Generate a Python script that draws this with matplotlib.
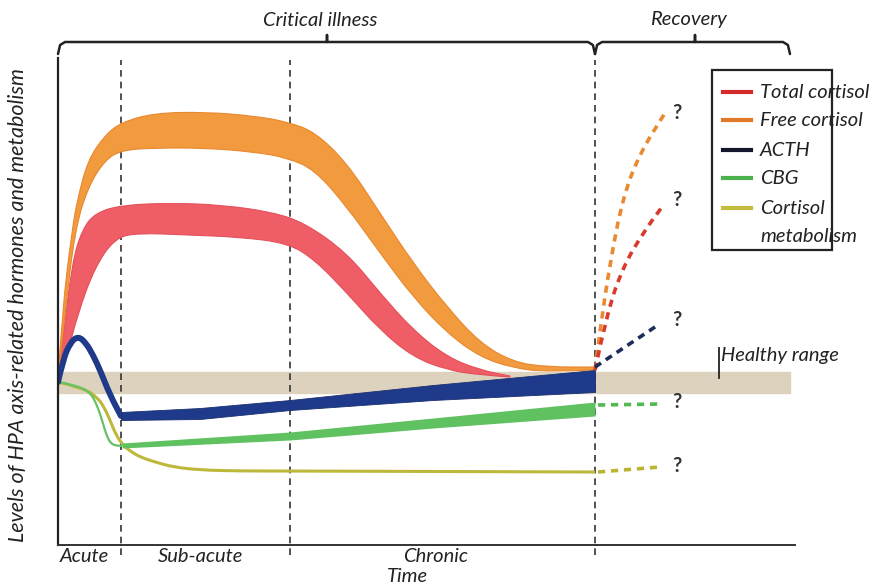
import numpy as np
import matplotlib
matplotlib.use('Agg')
import matplotlib.pyplot as plt
from matplotlib.patches import Rectangle, PathPatch
from matplotlib.path import Path

plt.rcParams['font.family'] = ['Lato', 'DejaVu Sans']

# phase boundaries (time units) and labels
phase_edges = [0.0, 6.3, 23.2, 53.7]
phase_names = ['Acute', 'Sub-acute', 'Chronic']
phase_label_t = [2.6, 14.3, 37.8]
t_end = 73.7
healthy_range = (15.2, 17.3)

# free cortisol band (upper / lower edge)
free_up_t = [0, 0.4, 1.4, 2.0, 3.0, 4.7, 6.4, 9.7, 14.7, 19.7, 23.0, 25.7, 28.9,
             32.2, 35.5, 38.9, 42.2, 45.5, 48.9, 53.7]
free_up_v = [16.5, 23.2, 31.5, 34.8, 38.5, 41.0, 42.3, 43.2, 43.3, 42.9, 42.3, 41.3, 38.2,
             33.2, 28.2, 23.8, 20.2, 18.3, 17.8, 17.8]
free_lo_t = [0, 0.7, 1.7, 3.0, 4.7, 6.4, 9.7, 14.7, 19.7, 23.0, 25.7, 28.9,
             32.2, 35.5, 38.9, 42.2, 45.5, 48.9, 53.7]
free_lo_v = [16.5, 23.2, 31.5, 35.8, 38.5, 39.5, 39.7, 39.7, 39.3, 38.7, 37.5, 33.8,
             29.2, 24.8, 21.2, 18.8, 17.7, 17.3, 17.5]

# total cortisol band
tot_up_t = [0, 0.4, 1.4, 2.4, 3.7, 6.4, 11.4, 16.4, 21.4, 24.7, 28.9, 32.2, 35.5,
            38.9, 42.2, 45.2]
tot_up_v = [16.5, 19.8, 28.2, 31.5, 33.2, 34.0, 34.2, 34.0, 33.3, 32.2, 29.2, 25.2, 21.5,
            18.8, 17.5, 16.9]
tot_lo_t = [0, 0.7, 2.0, 3.7, 5.7, 8.0, 13.0, 18.0, 23.0, 25.7, 28.9, 32.2, 35.5,
            38.9, 42.2, 45.2]
tot_lo_v = [16.5, 18.2, 23.2, 27.8, 30.7, 31.2, 31.0, 30.8, 30.2, 28.5, 25.2, 21.5, 18.8,
            17.5, 17.0, 16.8]

# ACTH: acute peak then widening band
acth_acute_t = [0, 0.5, 1.2, 2.0, 2.8, 3.5, 4.2, 5.2, 6.3]
acth_acute_v = [16.3, 18.5, 20.2, 20.9, 20.2, 19.0, 17.5, 15.0, 12.9]
acth_t = [6.3, 14.2, 23.2, 37.5, 53.7]
acth_up = [13.3, 13.7, 14.5, 16.0, 17.5]
acth_lo = [12.5, 12.6, 13.5, 14.5, 15.3]

# CBG
cbg_acute_t = [0, 1.7, 3.2, 3.9, 4.4, 4.9, 5.4, 6.4]
cbg_acute_v = [16.3, 16.0, 15.3, 14.0, 12.5, 10.8, 10.0, 9.9]
cbg_t = [6.4, 23.2, 37.5, 53.7]
cbg_up = [10.2, 11.3, 12.7, 14.3]
cbg_lo = [9.7, 10.5, 11.7, 12.9]

# cortisol metabolism
met_t = [0, 2.5, 3.9, 4.6, 5.2, 5.8, 6.5, 7.2, 8.2, 9.7, 11.5, 14.2, 18.2, 23.2, 53.7]
met_v = [16.3, 15.7, 14.8, 13.8, 12.5, 11.0, 10.0, 9.4, 8.8, 8.3, 7.8, 7.5, 7.4, 7.4, 7.3]

# recovery (unknown) extrapolations
rec_free_t = [53.7, 54.2, 55.2, 56.5, 58.2, 60.7]
rec_free_v = [17.5, 21.5, 28.2, 34.8, 39.2, 43.2]
rec_tot_t = [53.7, 54.9, 56.5, 58.5, 60.4]
rec_tot_v = [17.5, 23.2, 27.8, 31.2, 33.8]
rec_acth_t = [53.7, 60.0]
rec_acth_v = [17.8, 22.0]
rec_cbg_t = [54.0, 60.2]
rec_cbg_v = [14.0, 14.1]
rec_met_t = [54.0, 60.2]
rec_met_v = [7.3, 7.8]
question_v = [43.2, 34.5, 22.5, 14.3, 7.9]

legend_names = ['Total cortisol', 'Free cortisol', 'ACTH', 'CBG', 'Cortisol']
legend_colors = ['#d42a2a', '#e07a28', '#15152e', '#4cb04c', '#c4bc3c']
legend_v = [45.3, 42.5, 39.5, 36.7, 33.7]

FS = 14.5
TXT = '#222222'


def smooth(t, v):
    """Quadratic B-spline style path through the given points."""
    p = np.column_stack([t, v])
    verts = [p[0]]
    codes = [Path.MOVETO]
    for i in range(1, len(p) - 1):
        verts += [p[i], (p[i] + p[i + 1]) / 2]
        codes += [Path.CURVE3, Path.CURVE3]
    verts.append(p[-1])
    codes.append(Path.LINETO)
    return np.array(verts), codes


def band(ax, ut, uv, lt, lv, **kw):
    v1, c1 = smooth(ut, uv)
    v2, c2 = smooth(lt[::-1], lv[::-1])
    c2 = list(c2)
    c2[0] = Path.LINETO
    verts = np.vstack([v1, v2, v1[:1]])
    codes = c1 + c2 + [Path.CLOSEPOLY]
    ax.add_patch(PathPatch(Path(verts, codes), **kw))


def curve(ax, t, v, **kw):
    verts, codes = smooth(t, v)
    ax.add_patch(PathPatch(Path(verts, codes), fill=False, **kw))


fig = plt.figure(figsize=(8.84, 5.86), dpi=100)
ax = fig.add_axes([58 / 884, 41 / 586, 737 / 884, 490 / 586])
ax.set_xlim(0, t_end)
ax.set_ylim(0, 49)
ax.axis('off')

# healthy range
ax.add_patch(Rectangle((0, healthy_range[0]), t_end - 0.5, healthy_range[1] - healthy_range[0],
                       color='#ddd2bd', zorder=1))

# axes lines
ax.plot([0, 0], [0, 48.7], color=TXT, lw=1.6, clip_on=False, zorder=6)
ax.plot([0, t_end], [0, 0], color='#333333', lw=1.4, clip_on=False, zorder=6)

# phase dividers
for t in phase_edges[1:]:
    ax.plot([t, t], [-1.0, 48.5], color='#333333', lw=1.2, dashes=(4, 3),
            clip_on=False, zorder=2)

# bands
band(ax, tot_up_t, tot_up_v, tot_lo_t, tot_lo_v, fc='#ef5e67', ec='#e4505a', lw=0.8, zorder=3)
band(ax, free_up_t, free_up_v, free_lo_t, free_lo_v, fc='#f29a3e', ec='#e8882e', lw=0.8, zorder=3)
curve(ax, met_t, met_v, ec='#bdb83a', lw=2.2, zorder=4)
curve(ax, cbg_acute_t, cbg_acute_v, ec='#66c266', lw=1.6, zorder=4)
ax.fill_between(cbg_t, cbg_lo, cbg_up, color='#5fc15f', lw=0, zorder=4)
curve(ax, acth_acute_t, acth_acute_v, ec='#1f3a8a', lw=4.3, zorder=5,
      joinstyle='round', capstyle='round')
ax.fill_between(acth_t, acth_lo, acth_up, color='#1f3a8a', lw=0.6, ec='#1a3070', zorder=5)

# recovery extrapolations
rec = [(rec_free_t, rec_free_v, '#e98a32'), (rec_tot_t, rec_tot_v, '#d93a2c'),
       (rec_acth_t, rec_acth_v, '#1c2d5a'), (rec_cbg_t, rec_cbg_v, '#52b852'),
       (rec_met_t, rec_met_v, '#bbb432')]
for tt, vv, c in rec:
    verts, codes = smooth(tt, vv)
    ax.add_patch(PathPatch(Path(verts, codes), fill=False, ec=c, lw=2.6,
                           linestyle=(0, (2, 1.6)), zorder=5))
for qv in question_v:
    ax.text(61.9, qv, '?', fontsize=14.5, fontweight='bold', color='#333333',
            ha='center', va='center', zorder=6)

# healthy range label
ax.plot([66.1, 66.1], [16.7, 19.7], color=TXT, lw=1.3, clip_on=False)
ax.text(66.3, 18.9, 'Healthy range', fontsize=FS, style='italic', color=TXT,
        ha='left', va='center')

# top braces
def brace(t0, t1, tm, y=50.3, drop=1.2, r=0.7):
    xs = [t0, t0 + r * 0.3, t0 + r, tm - 0.3, tm, tm, tm, tm + 0.3, t1 - r, t1 - r * 0.3, t1]
    ys = [y - drop, y - 0.3, y, y, y, y + 0.7, y, y, y, y - 0.3, y - drop]
    ax.plot(xs, ys, color=TXT, lw=1.8, clip_on=False,
            solid_joinstyle='round', solid_capstyle='round')

brace(phase_edges[0], phase_edges[-1], 26.9)
brace(phase_edges[-1], 73.2, 63.7)
ax.text(26.2, 52.5, 'Critical illness', fontsize=FS, style='italic', color=TXT,
        ha='center', va='center', clip_on=False)
ax.text(63.0, 52.5, 'Recovery', fontsize=FS, style='italic', color=TXT,
        ha='center', va='center', clip_on=False)

# phase labels and axis labels
for name, t in zip(phase_names, phase_label_t):
    ax.text(t, -1.1, name, fontsize=FS, style='italic', color=TXT,
            ha='center', va='center', clip_on=False)
ax.text(34.9, -3.2, 'Time', fontsize=FS, style='italic', color=TXT,
        ha='center', va='center', clip_on=False)
fig.text(18 / 884, 1 - 305 / 586, 'Levels of HPA axis-related hormones and metabolism',
         fontsize=15.5, style='italic', color=TXT, rotation=90,
         ha='center', va='center')

# legend box (runs off the right edge)
ax.add_patch(Rectangle((65.4, 29.5), 12, 18.0, fill=False, ec=TXT, lw=1.6,
                       clip_on=False, zorder=7))
for name, c, ly in zip(legend_names, legend_colors, legend_v):
    ax.plot([66.5, 69.3], [ly, ly], color=c, lw=3, clip_on=False, zorder=7)
    ax.text(70.2, ly, name, fontsize=FS, style='italic', color=TXT,
            ha='left', va='center', clip_on=False, zorder=7)
ax.text(70.2, 30.8, 'metabolism', fontsize=FS, style='italic', color=TXT,
        ha='left', va='center', clip_on=False, zorder=7)

fig.savefig('out.png', dpi=100)
